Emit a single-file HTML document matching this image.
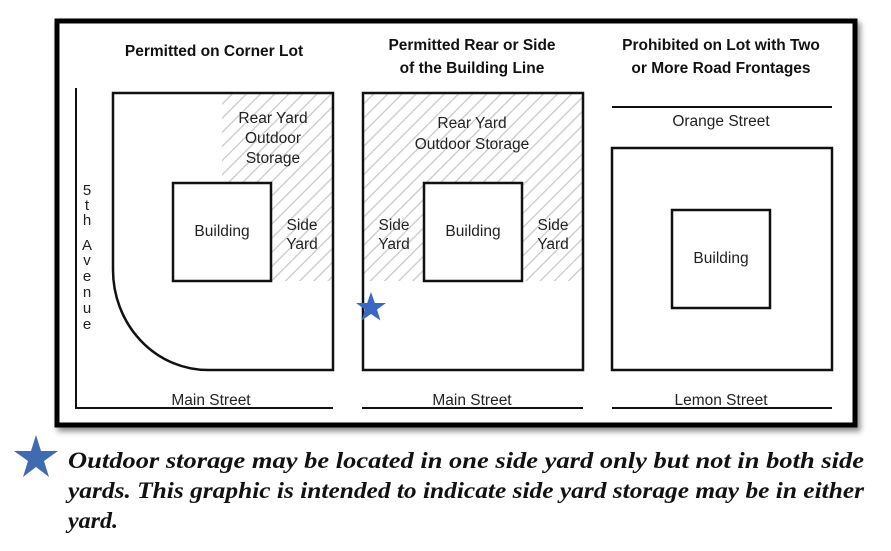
<!DOCTYPE html>
<html><head><style>body{margin:0;background:#fff}svg{display:block}</style></head><body>
<svg width="891" height="551" viewBox="0 0 891 551" xmlns="http://www.w3.org/2000/svg" font-family="Liberation Sans, sans-serif">
<defs>
<pattern id="h" patternUnits="userSpaceOnUse" width="10" height="10" patternTransform="rotate(45)">
<rect width="10" height="10" fill="#fff"/><line x1="0" y1="0" x2="0" y2="10" stroke="#c8c8c8" stroke-width="2.5"/>
</pattern>
<filter id="sh" x="-5%" y="-5%" width="110%" height="115%"><feDropShadow dx="3" dy="4" stdDeviation="3" flood-color="#000" flood-opacity="0.45"/></filter>
</defs>
<rect x="57" y="21" width="798" height="404" fill="#fff" stroke="#000" stroke-width="5" filter="url(#sh)"/>
<g font-weight="bold" font-size="15.5" text-anchor="middle" fill="#111">
<text x="214" y="56">Permitted on Corner Lot</text>
<text x="472" y="50">Permitted Rear or Side</text>
<text x="472" y="73">of the Building Line</text>
<text x="721" y="50">Prohibited on Lot with Two</text>
<text x="721" y="73">or More Road Frontages</text>
</g>
<!-- panel 1 -->
<path d="M222,93 H333 V281 H222 Z" fill="url(#h)"/>
<path d="M76,88 V408 H333" fill="none" stroke="#111" stroke-width="2"/>
<path d="M113,93 H333 V370 H208 A95,100 0 0 1 113,270 Z" fill="none" stroke="#111" stroke-width="2.5"/>
<rect x="173" y="183" width="98" height="98" fill="#fff" stroke="#111" stroke-width="2.5"/>
<g font-size="15.5" text-anchor="middle" fill="#222">
<text x="273" y="123">Rear Yard</text><text x="273" y="143">Outdoor</text><text x="273" y="163">Storage</text>
<text x="222" y="236">Building</text>
<text x="302" y="230">Side</text><text x="302" y="249">Yard</text>
<text x="211" y="405">Main Street</text>
</g>
<g font-size="15" text-anchor="middle" fill="#222">
<text x="87" y="195">5</text><text x="87" y="210">t</text><text x="87" y="225">h</text>
<text x="87" y="250">A</text><text x="87" y="265">v</text><text x="87" y="281">e</text><text x="87" y="297">n</text><text x="87" y="313">u</text><text x="87" y="329">e</text>
</g>
<!-- panel 2 -->
<rect x="363" y="93" width="220" height="188" fill="url(#h)"/>
<rect x="363" y="93" width="220" height="277" fill="none" stroke="#111" stroke-width="2.5"/>
<rect x="424" y="183" width="98" height="98" fill="#fff" stroke="#111" stroke-width="2.5"/>
<line x1="362" y1="408" x2="583" y2="408" stroke="#111" stroke-width="2"/>
<g font-size="15.5" text-anchor="middle" fill="#222">
<text x="472" y="128">Rear Yard</text><text x="472" y="149">Outdoor Storage</text>
<text x="473" y="236">Building</text>
<text x="394" y="230">Side</text><text x="394" y="249">Yard</text>
<text x="553" y="230">Side</text><text x="553" y="249">Yard</text>
<text x="472" y="405">Main Street</text>
</g>
<polygon points="371,292 374.8,303 386,303 377,309.5 380.4,320.5 371,314 361.6,320.5 365,309.5 356,303 367.2,303" fill="#3a66c4"/>
<!-- panel 3 -->
<line x1="612" y1="107" x2="832" y2="107" stroke="#111" stroke-width="2"/>
<rect x="612" y="148" width="220" height="222" fill="none" stroke="#111" stroke-width="2.5"/>
<rect x="672" y="210" width="98" height="98" fill="none" stroke="#111" stroke-width="2.5"/>
<line x1="612" y1="408" x2="832" y2="408" stroke="#111" stroke-width="2"/>
<g font-size="15.5" text-anchor="middle" fill="#222">
<text x="721" y="126">Orange Street</text>
<text x="721" y="263">Building</text>
<text x="721" y="405">Lemon Street</text>
</g>
<!-- footnote -->
<polygon points="36,435 41,451 58,451 44,461 49,477 36,467 23,477 28,461 14,451 31,451" fill="#3f6bb0"/>
<g font-family="Liberation Serif, serif" font-style="italic" font-weight="bold" font-size="23" fill="#111">
<text x="68" y="468" textLength="796" lengthAdjust="spacingAndGlyphs">Outdoor storage may be located in one side yard only but not in both side</text>
<text x="68" y="498" textLength="796" lengthAdjust="spacingAndGlyphs">yards.  This graphic is intended to indicate side yard storage may be in either</text>
<text x="68" y="528" textLength="50" lengthAdjust="spacingAndGlyphs">yard.</text>
</g>
</svg>
</body></html>
